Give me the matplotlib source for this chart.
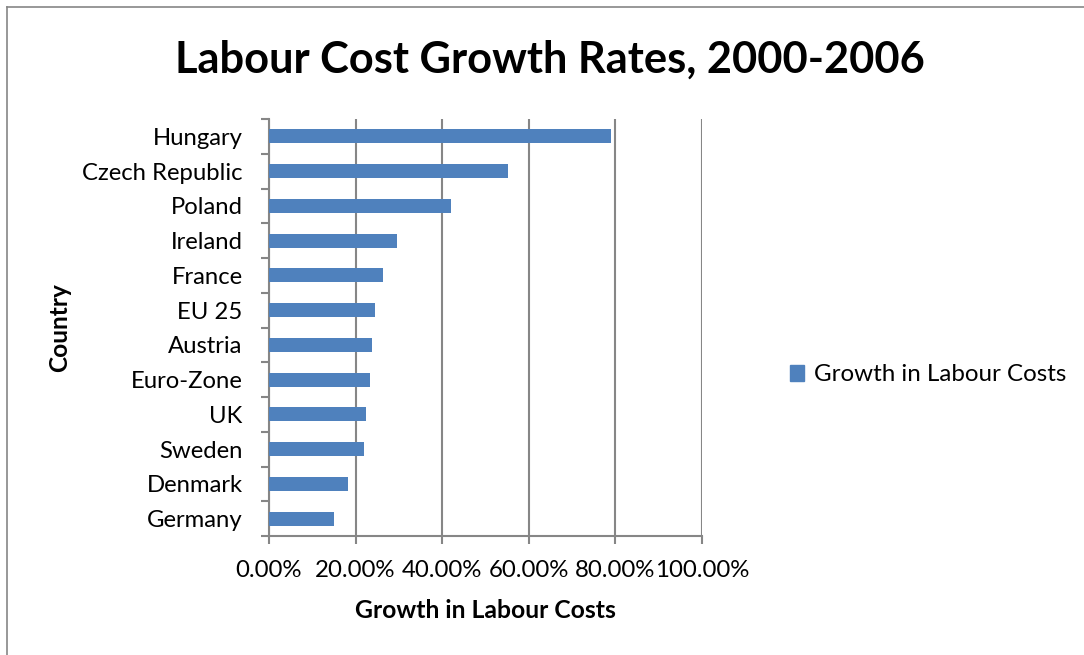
import matplotlib
matplotlib.use("Agg")
import matplotlib.pyplot as plt
from matplotlib.ticker import FixedLocator, PercentFormatter
from matplotlib.patches import Patch

plt.rcParams["font.family"] = ["Lato", "DejaVu Sans"]

countries = ["Germany", "Denmark", "Sweden", "UK", "Euro-Zone", "Austria",
             "EU 25", "France", "Ireland", "Poland", "Czech Republic", "Hungary"]
growth = [15.1, 18.3, 22.0, 22.5, 23.3, 23.7, 24.4, 26.4, 29.6, 42.0, 55.3, 78.9]
xticks = [0, 20, 40, 60, 80, 100]

BAR = "#4F81BD"
GRID = "#868686"

fig = plt.figure(figsize=(10.84, 6.55), dpi=100)
ax = fig.add_axes([269 / 1084, 1 - 536 / 655, 433 / 1084, 417 / 655])

ypos = range(len(countries))
ax.barh(ypos, growth, height=0.4, color=BAR, zorder=3)

ax.set_xlim(0, 100)
ax.set_ylim(-0.5, len(countries) - 0.5)
ax.set_xticks(xticks)
ax.xaxis.set_major_formatter(PercentFormatter(decimals=2))
ax.set_yticks(list(ypos))
ax.set_yticklabels(countries)
# tick marks sit on the category boundaries, labels on the centres
ax.yaxis.set_minor_locator(FixedLocator([i - 0.5 for i in range(len(countries) + 1)]))
ax.tick_params(axis="y", which="major", length=0, pad=19, labelsize=17.2)
ax.tick_params(axis="y", which="minor", length=6, width=1.5, color=GRID)
ax.tick_params(axis="x", length=6, width=1.5, color=GRID, labelsize=17.3, pad=11)

ax.grid(axis="x", color=GRID, lw=1.5, zorder=0)
for side in ("top", "right"):
    ax.spines[side].set_visible(False)
for side in ("left", "bottom"):
    ax.spines[side].set_color(GRID)
    ax.spines[side].set_linewidth(1.5)

ax.set_xlabel("Growth in Labour Costs", fontsize=17.8, fontweight="bold")
ax.xaxis.set_label_coords((485 - 269) / 433, -(610 - 536) / 417)
ax.xaxis.label.set_va("center")
ax.set_ylabel("Country", fontsize=17.6, fontweight="bold")
ax.yaxis.set_label_coords(-(269 - 60) / 433, 0.5)
ax.yaxis.label.set_va("center")

fig.text(550 / 1084, 1 - 60 / 655, "Labour Cost Growth Rates, 2000-2006",
         ha="center", va="center", fontsize=31.2, fontweight="bold")

fig.legend(handles=[Patch(color=BAR, label="Growth in Labour Costs")],
           loc="center left", bbox_to_anchor=(768 / 1084, 1 - 375 / 655),
           frameon=False, fontsize=17.4, handlelength=0.6, handleheight=0.6,
           handletextpad=0.4)

# chart frame along the top and left edges
fig.add_artist(plt.Line2D([7 / 1084, 1], [1 - 7 / 655] * 2, color=GRID, lw=1.2))
fig.add_artist(plt.Line2D([7 / 1084] * 2, [0, 1 - 7 / 655], color=GRID, lw=1.2))

fig.savefig("out.png", dpi=100, facecolor="white")
